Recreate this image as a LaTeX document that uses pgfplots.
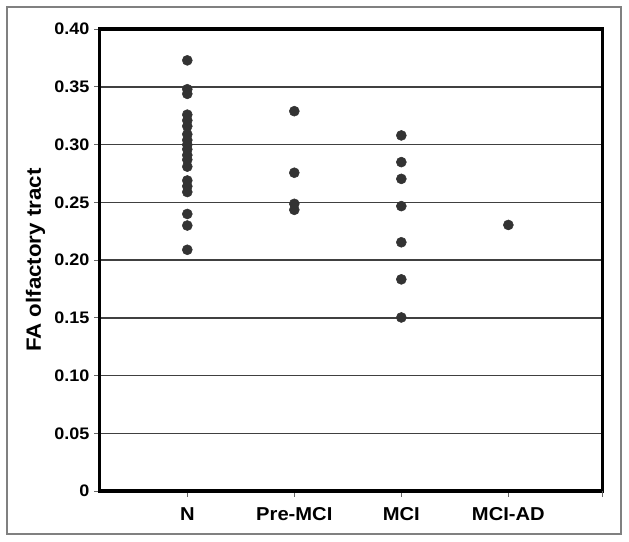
\documentclass[border=0pt]{standalone}
\usepackage{pgfplots}
\pgfplotsset{compat=1.18}
\usepackage{fontspec}
\setmainfont{Liberation Sans}[FakeStretch=1.08]
\definecolor{dot}{HTML}{333333}
\begin{document}
\begin{tikzpicture}[x=0.75pt,y=0.75pt]
\useasboundingbox (0,0) rectangle (629,542);
\draw[gray,line width=0.8pt] (7,8) rectangle (621,535);
\begin{axis}[
  at={(93,44)}, anchor=south west,
  scale only axis, width=377.25pt, height=346.5pt,
  xmin=0.18, xmax=4.88, ymin=0, ymax=0.4,
  xtick={1,2,3,4}, xticklabels={N,Pre-MCI,MCI,MCI-AD},
  extra x ticks={4.88}, extra x tick labels={},
  ytick={0,0.05,0.1,0.15,0.2,0.25,0.3,0.35,0.4},
  yticklabels={0,0.05,0.10,0.15,0.20,0.25,0.30,0.35,0.40},
  ymajorgrids, major grid style={black!75,line width=1.1pt},
  axis line style={line width=2.6pt,black},
  tick align=outside, major tick length=4pt,
  tick style={black!60,line width=0.8pt},
  xtick pos=bottom, ytick pos=left,
  ticklabel style={font=\bfseries},
  yticklabel style={font=\fontsize{12.5}{14}\bfseries\selectfont},
  xticklabel style={font=\fontsize{14}{16}\bfseries\selectfont, yshift=-5pt},
  ylabel={FA olfactory tract},
  ylabel style={font=\fontsize{15.5}{17}\bfseries\selectfont, at={(axis description cs:-0.127,0.5)}, anchor=center},
]
\addplot[only marks, mark=*, mark size=3.75pt, color=dot] coordinates {
(1,0.373)(1,0.348)(1,0.344)(1,0.326)(1,0.321)(1,0.316)(1,0.309)(1,0.304)
(1,0.300)(1,0.296)(1,0.291)(1,0.287)(1,0.281)(1,0.269)(1,0.264)(1,0.259)
(1,0.240)(1,0.230)(1,0.209)
(2,0.329)(2,0.2757)(2,0.2488)(2,0.2436)
(3,0.308)(3,0.2849)(3,0.2704)(3,0.2468)(3,0.2155)(3,0.1834)(3,0.1504)
(4,0.2305)
};
\end{axis}
\end{tikzpicture}
\end{document}
